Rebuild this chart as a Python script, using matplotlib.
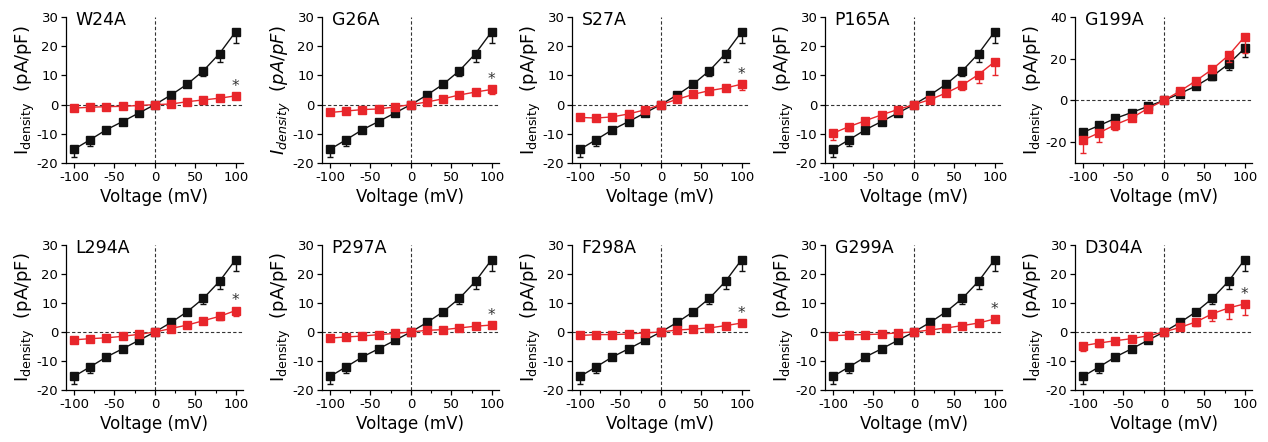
import numpy as np
import matplotlib
matplotlib.use("Agg")
import matplotlib.pyplot as plt
from matplotlib.ticker import MultipleLocator

plt.rcParams['axes.unicode_minus'] = False
plt.rcParams['font.family'] = ['DejaVu Sans']

# voltage steps (mV)
voltage = [-100, -80, -60, -40, -20, 0, 20, 40, 60, 80, 100]

# wild type (black), same in every panel
wt_mean = [-15.3, -12.0, -8.6, -5.8, -2.9, 0.0, 3.3, 7.0, 11.6, 17.5, 25.0]
wt_err = [2.6, 2.3, 1.2, 0.6, 0.5, 0.0, 0.5, 0.6, 1.8, 2.8, 4.0]

# mutants (red)
mutants = ['W24A', 'G26A', 'S27A', 'P165A', 'G199A',
           'L294A', 'P297A', 'F298A', 'G299A', 'D304A']

mut_mean = [
    [-1.2, -0.9, -0.7, -0.6, -0.3, 0.0, 0.2, 1.0, 1.6, 2.2, 3.0],
    [-2.7, -2.2, -1.7, -1.5, -0.8, 0.0, 0.9, 2.0, 3.3, 4.3, 5.2],
    [-4.4, -4.6, -4.2, -3.2, -1.8, 0.0, 1.8, 3.5, 4.8, 5.7, 7.0],
    [-9.8, -7.5, -5.5, -3.5, -1.7, 0.0, 1.7, 4.0, 6.7, 10.3, 14.7],
    [-19.0, -15.5, -11.6, -8.4, -3.9, 0.0, 4.5, 9.5, 15.0, 21.6, 30.6],
    [-2.7, -2.3, -2.0, -1.5, -0.8, 0.0, 1.2, 2.4, 3.9, 5.4, 7.4],
    [-2.1, -1.7, -1.4, -0.9, -0.5, 0.0, 0.6, 0.8, 1.4, 2.0, 2.4],
    [-1.2, -0.9, -0.9, -0.7, -0.3, 0.0, 0.7, 1.0, 1.4, 2.2, 3.1],
    [-1.3, -1.0, -0.9, -0.7, -0.3, 0.0, 0.7, 1.4, 2.2, 3.1, 4.5],
    [-4.7, -3.8, -3.0, -2.3, -1.3, 0.0, 1.6, 3.5, 6.3, 8.3, 9.7],
]
mut_err = [
    [0.3, 0.3, 0.2, 0.2, 0.2, 0.0, 0.2, 0.3, 0.4, 0.5, 0.6],
    [0.5, 0.4, 0.4, 0.3, 0.3, 0.0, 0.3, 0.5, 0.7, 0.9, 1.5],
    [1.0, 1.0, 1.0, 0.6, 0.4, 0.0, 0.4, 0.7, 1.0, 1.2, 1.9],
    [2.4, 1.7, 1.0, 0.5, 0.4, 0.0, 0.4, 0.7, 1.6, 2.9, 4.7],
    [6.3, 4.3, 2.6, 1.3, 0.6, 0.0, 0.6, 1.2, 2.0, 3.0, 8.0],
    [0.5, 0.4, 0.4, 0.3, 0.3, 0.0, 0.3, 0.5, 0.8, 1.2, 2.0],
    [0.4, 0.3, 0.3, 0.2, 0.2, 0.0, 0.2, 0.3, 0.4, 0.5, 0.6],
    [0.3, 0.3, 0.2, 0.2, 0.2, 0.0, 0.2, 0.3, 0.4, 0.5, 0.6],
    [0.3, 0.3, 0.2, 0.2, 0.2, 0.0, 0.2, 0.3, 0.5, 0.7, 1.2],
    [1.8, 1.2, 0.8, 0.6, 0.4, 0.0, 0.5, 1.3, 2.6, 3.7, 3.7],
]
significant = [True, True, True, False, False, True, True, True, True, True]

BLACK = '#111111'
RED = '#e8262b'

W, H = 1268, 442
fig = plt.figure(figsize=(W / 100, H / 100), dpi=100)

col_left = [66, 322, 572, 825, 1075]
row_bottom = [279, 52]
row_height = [146, 145]
ax_w = 177

for i, name in enumerate(mutants):
    r, c = divmod(i, 5)
    ax = fig.add_axes([col_left[c] / W, row_bottom[r] / H, ax_w / W, row_height[r] / H])

    ax.axhline(0, color='#333333', lw=0.8, ls=(0, (3, 2)), zorder=1)
    ax.axvline(0, color='#333333', lw=0.8, ls=(0, (3, 2)), zorder=1)

    zeros = np.zeros(len(voltage))
    ax.errorbar(voltage, wt_mean, yerr=[wt_err, zeros], color=BLACK, lw=1.0,
                marker='s', ms=5.8, mec=BLACK, mfc=BLACK, elinewidth=1.0,
                capsize=2.2, capthick=1.0, zorder=3)
    ax.errorbar(voltage, mut_mean[i], yerr=[mut_err[i], zeros], color=RED, lw=1.0,
                marker='s', ms=5.8, mec=RED, mfc=RED, elinewidth=1.0,
                capsize=2.2, capthick=1.0, zorder=4)

    if significant[i]:
        ax.annotate('*', (voltage[-1], mut_mean[i][-1]), xytext=(0, 1.5),
                    textcoords='offset points', ha='center', va='bottom',
                    fontsize=11, color='#333333')

    ax.set_xlim(-110, 109)
    if name == 'G199A':
        ax.set_ylim(-30, 40)
        ax.set_yticks([-20, 0, 20, 40])
    else:
        ax.set_ylim(-20, 30)
        ax.set_yticks([-20, -10, 0, 10, 20, 30])
    ax.set_xticks([-100, -50, 0, 50, 100])
    ax.xaxis.set_minor_locator(MultipleLocator(25))

    for s in ['top', 'right']:
        ax.spines[s].set_visible(False)
    for s in ['left', 'bottom']:
        ax.spines[s].set_linewidth(0.9)
    ax.tick_params(which='major', direction='out', length=3.5, width=0.9,
                   labelsize=9.5, pad=2)
    ax.tick_params(which='minor', direction='out', length=2, width=0.8)

    ax.text(0.055, 0.945, name, transform=ax.transAxes, fontsize=12.5,
            ha='left', va='baseline')

    if name == 'G26A':
        ax.set_ylabel(r'$I_{density}\ \ (pA/pF)$', fontsize=13)
    else:
        ax.set_ylabel(r'I$_{\rm density}$  (pA/pF)', fontsize=13)
    ax.yaxis.set_label_coords(-0.165, 0.5)
    ax.set_xlabel('Voltage (mV)', fontsize=12)
    ax.xaxis.set_label_coords(0.5, -0.17)

fig.savefig('out.png', dpi=100)
